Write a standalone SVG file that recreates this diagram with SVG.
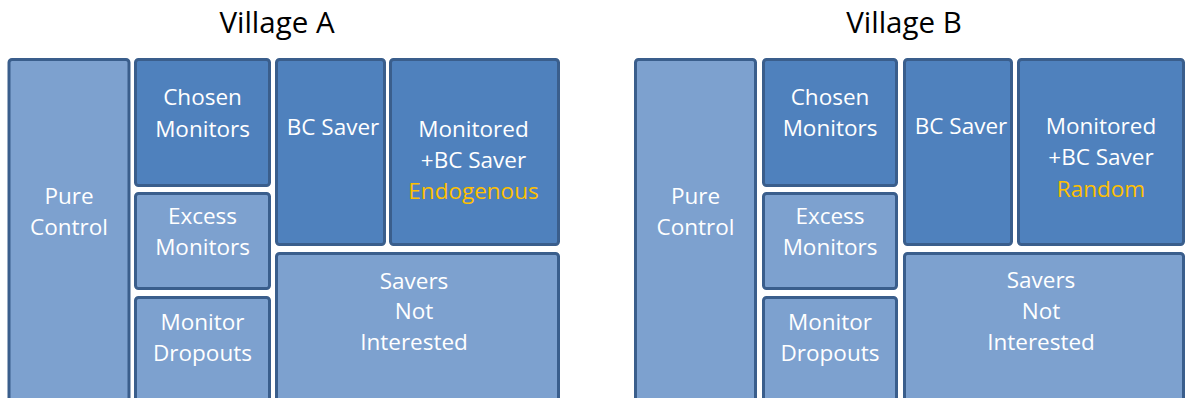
<svg xmlns="http://www.w3.org/2000/svg" width="1186" height="398" viewBox="0 0 1186 398">
<style>
.bg{fill:#ffffff}
.dk{fill:#4f81bd;stroke:#3a5e8c;stroke-width:3}
.lt{fill:#7da1cf;stroke:#3a5e8c;stroke-width:3}
text{font-family:"Open Sans","Noto Sans","Liberation Sans",sans-serif;text-anchor:middle}
.t{font-size:22.5px;fill:#ffffff}
.y{fill:#ffc000}
.h{font-size:29.5px;fill:#000000}
</style>
<rect class="bg" x="0" y="0" width="1186" height="398"/>
<g id="titles">
<text class="h" x="277" y="33">Village A</text>
<text class="h" x="904" y="33">Village B</text>
</g>
<g id="connectors"></g>
<g id="a-pure-control"><rect class="lt" x="9" y="59.5" width="120" height="350" rx="3"/><text class="t" x="69" y="204">Pure</text><text class="t" x="69" y="235">Control</text></g>
<g id="a-chosen-monitors"><rect class="dk" x="135.5" y="59.5" width="134" height="126" rx="3"/><text class="t" x="202.5" y="105">Chosen</text><text class="t" x="202.5" y="136.5">Monitors</text></g>
<g id="a-excess-monitors"><rect class="lt" x="135.5" y="193.5" width="134" height="95" rx="3"/><text class="t" x="202.5" y="223.5">Excess</text><text class="t" x="202.5" y="255">Monitors</text></g>
<g id="a-monitor-dropouts"><rect class="lt" x="135.5" y="297.5" width="134" height="120" rx="3"/><text class="t" x="202.5" y="330">Monitor</text><text class="t" x="202.5" y="361">Dropouts</text></g>
<g id="a-bc-saver"><rect class="dk" x="276.5" y="59.5" width="108" height="185" rx="3"/><text class="t" x="333" y="135">BC Saver</text></g>
<g id="a-monitored-bc-saver"><rect class="dk" x="390.5" y="59.5" width="168" height="185" rx="3"/><text class="t" x="473.5" y="136.5">Monitored</text><text class="t" x="473.5" y="167.5">+BC Saver</text><text class="t y" x="473.5" y="199">Endogenous</text></g>
<g id="a-savers-not-interested"><rect class="lt" x="276.5" y="253.5" width="282" height="160" rx="3"/><text class="t" x="414" y="288.5">Savers</text><text class="t" x="414" y="319">Not</text><text class="t" x="414" y="350">Interested</text></g>
<g id="b-pure-control"><rect class="lt" x="635.5" y="59.5" width="120" height="350" rx="3"/><text class="t" x="695.5" y="204">Pure</text><text class="t" x="695.5" y="235">Control</text></g>
<g id="b-chosen-monitors"><rect class="dk" x="763.5" y="59.5" width="133" height="126" rx="3"/><text class="t" x="830" y="104.5">Chosen</text><text class="t" x="830" y="136">Monitors</text></g>
<g id="b-excess-monitors"><rect class="lt" x="763.5" y="193.5" width="133" height="95" rx="3"/><text class="t" x="830" y="223.5">Excess</text><text class="t" x="830" y="255">Monitors</text></g>
<g id="b-monitor-dropouts"><rect class="lt" x="763.5" y="297.5" width="133" height="120" rx="3"/><text class="t" x="830" y="330">Monitor</text><text class="t" x="830" y="361">Dropouts</text></g>
<g id="b-bc-saver"><rect class="dk" x="904.5" y="59.5" width="107" height="185" rx="3"/><text class="t" x="961" y="134">BC Saver</text></g>
<g id="b-monitored-bc-saver"><rect class="dk" x="1018.5" y="59.5" width="165" height="185" rx="3"/><text class="t" x="1101" y="133.5">Monitored</text><text class="t" x="1101" y="165">+BC Saver</text><text class="t y" x="1101" y="196.5">Random</text></g>
<g id="b-savers-not-interested"><rect class="lt" x="904.5" y="253.5" width="279" height="160" rx="3"/><text class="t" x="1041" y="288">Savers</text><text class="t" x="1041" y="319">Not</text><text class="t" x="1041" y="350">Interested</text></g>
</svg>
